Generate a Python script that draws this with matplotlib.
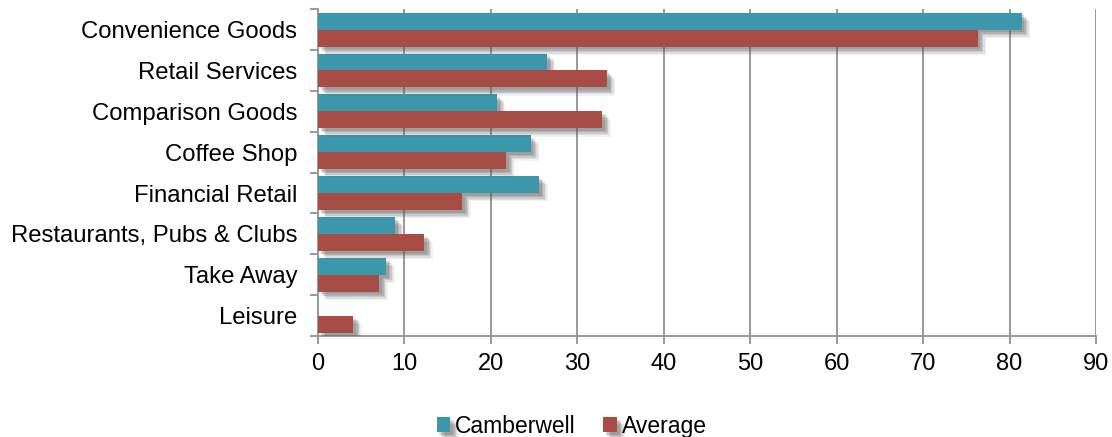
import matplotlib.pyplot as plt
import matplotlib.patheffects as pe
import numpy as np

categories = ['Convenience Goods', 'Retail Services', 'Comparison Goods', 'Coffee Shop',
              'Financial Retail', 'Restaurants, Pubs & Clubs', 'Take Away', 'Leisure']
camberwell = [81.4, 26.5, 20.7, 24.6, 25.6, 8.9, 7.9, 0.0]
average = [76.3, 33.4, 32.9, 21.8, 16.7, 12.3, 7.1, 4.1]

teal = '#3c96ac'
red = '#a84c46'
grey = '#999999'

plt.rcParams['font.family'] = ['Liberation Sans', 'DejaVu Sans']

fig = plt.figure(figsize=(11.12, 4.37), dpi=100)
ax = fig.add_axes([0.286, 0.231, 0.6996, 0.748])

# soft drop shadow under each bar
shadow = [pe.SimplePatchShadow(offset=(d, -d), shadow_rgbFace='#555555', alpha=a)
          for d, a in [(6, 0.08), (5, 0.12), (4, 0.15), (3, 0.2), (2, 0.2)]] + [pe.Normal()]

n = len(categories)
y = np.arange(n)[::-1].astype(float)
h = 0.415
b1 = ax.barh(y + h / 2, camberwell, height=h, color=teal, label='Camberwell', zorder=3)
b2 = ax.barh(y - h / 2, average, height=h, color=red, label='Average', zorder=3)
for bar, v in zip(list(b1) + list(b2), camberwell + average):
    if v > 0:
        bar.set_path_effects(shadow)

ax.set_xlim(0, 90)
ax.set_ylim(-0.5, n - 0.5)
ax.set_xticks(range(0, 91, 10))
ax.xaxis.grid(True, color=grey, linewidth=1.4, zorder=0)
ax.set_axisbelow(True)

ax.set_yticks(y)
ax.set_yticklabels(categories)
ax.set_yticks(np.arange(-0.5, n, 1.0), minor=True)
ax.tick_params(axis='y', which='major', length=0, pad=15, labelsize=17.2)
ax.tick_params(axis='y', which='minor', length=6, width=1.4, color=grey)
ax.tick_params(axis='x', length=6, width=1.4, color=grey, pad=6, labelsize=17)

for side in ['top', 'right']:
    ax.spines[side].set_visible(False)
for side in ['left', 'bottom']:
    ax.spines[side].set_color(grey)
    ax.spines[side].set_linewidth(1.4)

fig.legend(handles=[b1, b2], labels=['Camberwell', 'Average'], loc='center',
           bbox_to_anchor=(0.514, 0.025), ncol=2, frameon=False, fontsize=16.5,
           handlelength=0.6, handleheight=0.6, handletextpad=0.2, columnspacing=1.2)

fig.savefig('out.png', dpi=100)
